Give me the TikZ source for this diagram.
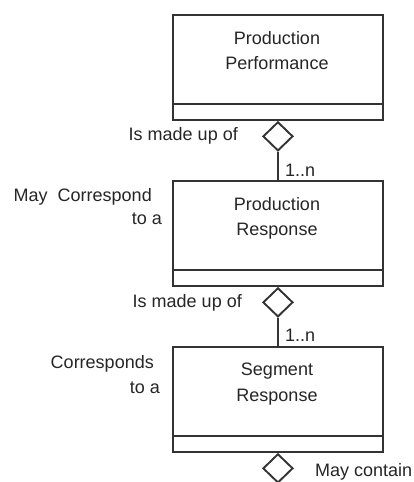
\documentclass[tikz,border=0pt]{standalone}
\usepackage{fontspec}
\setmainfont{Liberation Sans}
\usetikzlibrary{shapes.geometric}
\tikzset{
  classbox/.style={draw=black!80, line width=1.9pt, minimum width=210pt, minimum height=105pt, inner sep=0pt, anchor=north west},
  agg/.style={draw=black!80, fill=white, line width=1.9pt, shape=diamond, minimum width=30pt, minimum height=29pt, inner sep=0pt},
  lbl/.style={inner sep=0pt, font=\fontsize{18}{22}\selectfont, text=black!85},
  link/.style={draw=black!80, line width=1.9pt}
}
\begin{document}
\begin{tikzpicture}[x=1pt,y=-1pt]
\useasboundingbox[fill=white] (0,0) rectangle (414,482);

% class boxes
\node[classbox] (pp) at (172,14) {};
\node[classbox] (pr) at (172,180) {};
\node[classbox] (sr) at (172,346) {};

% attribute compartments
\draw[link] ([yshift=17pt]pp.south west) -- ([yshift=17pt]pp.south east);
\draw[link] ([yshift=17pt]pr.south west) -- ([yshift=17pt]pr.south east);
\draw[link] ([yshift=17pt]sr.south west) -- ([yshift=17pt]sr.south east);

% class names
\node[lbl, anchor=base] (pp1) at (277,44) {Production};
\node[lbl, anchor=base] (pp2) at (277,69) {Performance};
\node[lbl, anchor=base] (pr1) at (277,210) {Production};
\node[lbl, anchor=base] (pr2) at (277,235) {Response};
\node[lbl, anchor=base] (sr1) at (277,375) {Segment};
\node[lbl, anchor=base] (sr2) at (277,401) {Response};

% aggregation diamonds
\node[agg, anchor=north] (d1) at (pp.south) {};
\node[agg, anchor=north] (d2) at (pr.south) {};
\node[agg, anchor=north] (d3) at (sr.south) {};

% associations
\draw[link] (d1.south) -- (pr.north);
\draw[link] (d2.south) -- (sr.north);

% association labels
\node[lbl, anchor=base east] (m1) at (238,140) {Is made up of};
\node[lbl, anchor=base west] (n1) at (285,176) {1..n};
\node[lbl, anchor=base east] (m2) at (242,307) {Is made up of};
\node[lbl, anchor=base west] (n2) at (285,341) {1..n};
\node[lbl, anchor=base east] (c1) at (152,201) {May\ \ Correspond};
\node[lbl, anchor=base east] (c2) at (162,224) {to a};
\node[lbl, anchor=base east] (c3) at (154,368) {Corresponds};
\node[lbl, anchor=base east] (c4) at (160,393) {to a};
\node[lbl, anchor=base west] (mc) at (315,476) {May contain};
\end{tikzpicture}
\end{document}
